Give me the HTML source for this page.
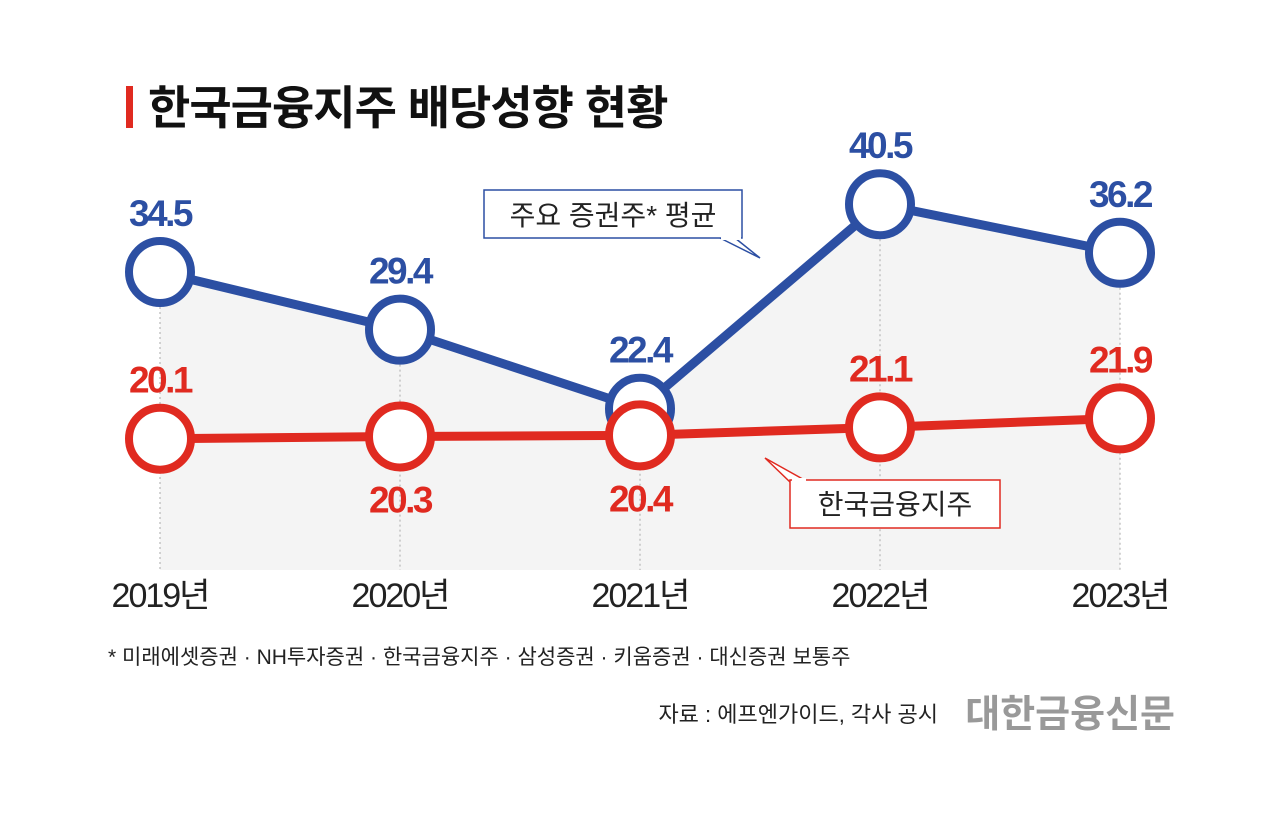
<!DOCTYPE html>
<html><head><meta charset="utf-8"><style>
body{margin:0;background:#fff;}
svg{display:block;font-family:"Liberation Sans","Noto Sans CJK KR",sans-serif;}
</style></head><body>
<svg width="1280" height="814" viewBox="0 0 1280 814">
<rect x="126" y="86" width="7" height="42" fill="#e02a20"/>
<text x="148" y="124" font-size="46" font-weight="bold" fill="#111" letter-spacing="-1">한국금융지주 배당성향 현황</text>
<g id="plot"></g>
<g>
<polygon points="735,238 760,258 720,238" fill="#fff" stroke="#2c4fa3" stroke-width="1.5"/>
<rect x="484" y="190" width="258" height="48" fill="#fff" stroke="#2c4fa3" stroke-width="1.5"/>
<rect x="721" y="236" width="20" height="4" fill="#fff"/>
<text x="613" y="225" font-size="28" text-anchor="middle" fill="#222">주요 증권주* 평균</text>
</g>
<g>
<polygon points="765,458 808,482 790,482" fill="#fff" stroke="#e02a20" stroke-width="1.5"/>
<rect x="790" y="480" width="210" height="48" fill="#fff" stroke="#e02a20" stroke-width="1.5"/>
<rect x="792" y="478" width="14" height="4" fill="#fff"/>
<text x="895" y="514" font-size="28" text-anchor="middle" fill="#222">한국금융지주</text>
</g>
<text x="108" y="664" font-size="21" fill="#222">* 미래에셋증권 · NH투자증권 · 한국금융지주 · 삼성증권 · 키움증권 · 대신증권 보통주</text>
<text x="938" y="722" font-size="22" text-anchor="end" fill="#222">자료 : 에프엔가이드, 각사 공시</text>
<text x="1175" y="727" font-size="38" font-weight="bold" text-anchor="end" fill="#999">대한금융신문</text>
</svg>
<script>
const years=["2019년","2020년","2021년","2022년","2023년"];
const avgValues=[34.5,29.4,22.4,40.5,36.2];
const hanValues=[20.1,20.3,20.4,21.1,21.9];
const avgLabels=["34.5","29.4","22.4","40.5","36.2"];
const hanLabels=["20.1","20.3","20.4","21.1","21.9"];
const NS="http://www.w3.org/2000/svg";
const g=document.getElementById('plot');
function x(i){return 160+i*240;}
function y(v){return 272+(34.5-v)*11.3;}
function yr2(v){return y(v)+4;}
function mk(t,a){const e=document.createElementNS(NS,t);for(const k in a)e.setAttribute(k,a[k]);g.appendChild(e);return e;}
let d="M"+x(0)+",570 ";avgValues.forEach((v,i)=>d+="L"+x(i)+","+y(v)+" ");d+="L"+x(4)+",570Z";
const area=mk('path',{d:d,fill:'#f4f4f4'});


years.forEach((yr,i)=>{
 const l=mk('line',{x1:x(i),x2:x(i),y1:y(avgValues[i]),y2:570,stroke:'#aaa','stroke-width':1,'stroke-dasharray':'2,3'});
 
 
 const t=mk('text',{x:x(i),y:607,'font-size':34,'text-anchor':'middle',fill:'#222','letter-spacing':-2});
 t.textContent=yr;
 
 
});
function series(vals,labels,color,name,below,yf){
 const p=mk('polyline',{points:vals.map((v,i)=>x(i)+","+yf(v)).join(" "),fill:'none',stroke:color,'stroke-width':9,'stroke-linejoin':'round'});
 
 
 vals.forEach((v,i)=>{
  const c=mk('circle',{cx:x(i),cy:yf(v),r:31,fill:'#fff',stroke:color,'stroke-width':8});
  
  
  const b=below[i];
  const t=mk('text',{x:x(i),y:b?yf(v)+76:yf(v)-46,'font-size':37,'font-weight':'bold','text-anchor':'middle',fill:color,'letter-spacing':-2.5});
  t.textContent=labels[i];
  
  
 });
}
series(avgValues,avgLabels,'#2c4fa3','average',[0,0,0,0,0],y);
series(hanValues,hanLabels,'#e02a20','hankook',[0,1,1,0,0],yr2);
</script>
</body></html>
